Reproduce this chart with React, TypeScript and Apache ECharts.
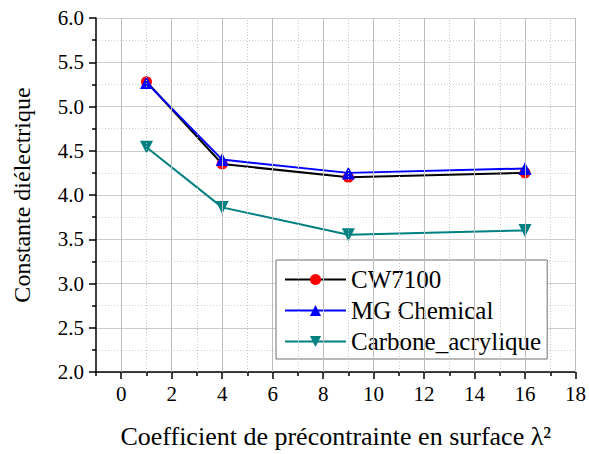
import React, { useEffect, useRef } from "react";
import * as echarts from "echarts";

const X_VALUES = [1, 4, 9, 16];
const CW7100 = [5.28, 4.35, 4.2, 4.25];
const MG_CHEMICAL = [5.27, 4.4, 4.25, 4.3];
const CARBONE = [4.54, 3.86, 3.55, 3.6];
const X_MAJOR = [0, 2, 4, 6, 8, 10, 12, 14, 16, 18];
const X_MINOR = [-1, 1, 3, 5, 7, 9, 11, 13, 15, 17];
const SERIES_NAMES = ["CW7100", "MG Chemical", "Carbone_acrylique"];

const FONT = "Liberation Serif";

function pairs(ys: number[]) {
  return X_VALUES.map((x, i) => [x, ys[i]]);
}

export default function App() {
  const ref = useRef<HTMLDivElement>(null);
  useEffect(() => {
    document.body.style.margin = "0";
    const chart = echarts.init(ref.current!, null, { renderer: "svg" });
    const majorStyle = { color: "#bcbcbc", width: 1, type: "solid", opacity: 1 };
    const minorStyle = { color: "#c4c4c4", width: 1, type: [1, 2], opacity: 1 };
    const gridLines = [
      ...X_MINOR.filter((v) => v > -1).map((v) => ({ xAxis: v, lineStyle: minorStyle })),
      ...X_MAJOR.map((v) => ({ xAxis: v, lineStyle: majorStyle })),
    ];
    chart.setOption({
      animation: false,
      backgroundColor: "#ffffff",
      textStyle: { fontFamily: FONT },
      grid: { left: 96, top: 18, right: 12, bottom: 79, containLabel: false },
      legend: {
        orient: "vertical",
        left: 276,
        top: 260,
        backgroundColor: "#ffffff",
        borderColor: "#707070",
        borderWidth: 1,
        borderRadius: 0,
        padding: [7, 6, 5, 8],
        itemWidth: 61,
        itemHeight: 14,
        itemGap: 6,
        data: SERIES_NAMES,
        textStyle: { fontFamily: FONT, fontSize: 25, color: "#000" },
      },
      xAxis: [
        {
          type: "value",
          position: "bottom",
          min: -1,
          max: 18,
          name: "Coefficient de précontrainte en surface λ²",
          nameLocation: "middle",
          nameGap: 51,
          nameTextStyle: { fontFamily: FONT, fontSize: 26, color: "#000" },
          axisLine: { show: true, onZero: false, lineStyle: { color: "#000", width: 1.5 } },
          axisTick: { show: true, inside: false, length: 7, customValues: X_MAJOR, lineStyle: { color: "#000", width: 1.5 } },
          axisLabel: { customValues: X_MAJOR, margin: 11, fontFamily: FONT, fontSize: 21, color: "#000" },
          splitLine: { show: false },
        },
        {
          type: "value",
          position: "bottom",
          min: -1,
          max: 18,
          axisLine: { show: false, onZero: false },
          axisTick: { show: true, inside: false, length: 4, customValues: X_MINOR, lineStyle: { color: "#000", width: 1.5 } },
          axisLabel: { show: false, customValues: X_MINOR },
          splitLine: { show: false },
        },
      ],
      yAxis: {
        type: "value",
        min: 2,
        max: 6,
        interval: 0.5,
        name: "Constante diélectrique",
        nameLocation: "middle",
        nameGap: 62,
        nameTextStyle: { fontFamily: FONT, fontSize: 24, color: "#000" },
        axisLine: { show: true, onZero: false, lineStyle: { color: "#000", width: 1.5 } },
        axisTick: { show: true, inside: false, length: 7, lineStyle: { color: "#000", width: 1.5 } },
        minorTick: { show: true, splitNumber: 2, length: 4, lineStyle: { color: "#000", width: 1.5 } },
        axisLabel: { margin: 12, fontFamily: FONT, fontSize: 21, color: "#000", formatter: (v: number) => v.toFixed(1) },
        splitLine: { show: true, lineStyle: { color: "#cccccc", width: 1, type: "solid" } },
        minorSplitLine: { show: true, lineStyle: { color: "#d0d0d0", width: 1, type: [1, 2] } },
      },
      series: [
        {
          name: "grid",
          type: "line",
          xAxisIndex: 0,
          data: [],
          symbol: "none",
          silent: true,
          z: 0,
          markLine: {
            silent: true,
            symbol: "none",
            label: { show: false },
            emphasis: { disabled: true },
            lineStyle: { opacity: 1 },
            data: gridLines,
          },
        },
        {
          name: SERIES_NAMES[0],
          type: "line",
          xAxisIndex: 0,
          data: pairs(CW7100),
          symbol: "circle",
          symbolSize: 11,
          lineStyle: { color: "#000000", width: 2 },
          itemStyle: { color: "#ff0000" },
          z: 2,
        },
        {
          name: SERIES_NAMES[1],
          type: "line",
          xAxisIndex: 0,
          data: pairs(MG_CHEMICAL),
          symbol: "triangle",
          symbolSize: 13,
          lineStyle: { color: "#0000ff", width: 2 },
          itemStyle: { color: "#0000ff" },
          z: 3,
        },
        {
          name: SERIES_NAMES[2],
          type: "line",
          xAxisIndex: 0,
          data: pairs(CARBONE),
          symbol: "triangle",
          symbolRotate: 180,
          symbolSize: 13,
          lineStyle: { color: "#008080", width: 2 },
          itemStyle: { color: "#008080" },
          z: 2,
        },
      ],
    });
    return () => chart.dispose();
  }, []);
  return <div ref={ref} style={{ width: 589, height: 454 }} />;
}
